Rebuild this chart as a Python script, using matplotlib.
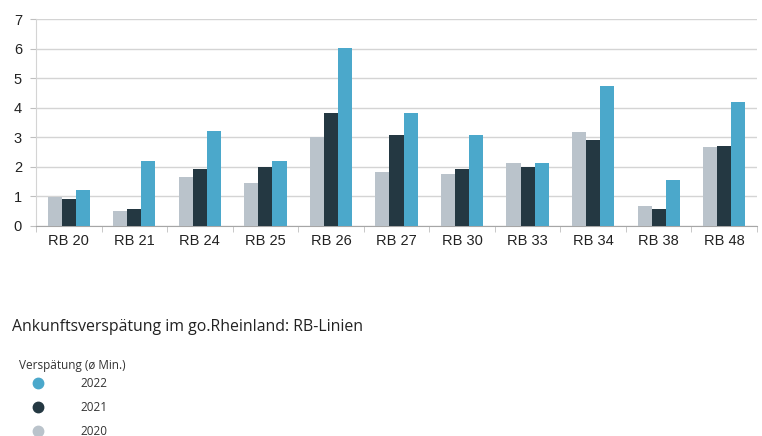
import numpy as np
import matplotlib.pyplot as plt
from matplotlib.lines import Line2D

# Ankunftsverspätung (Minuten) je RB-Linie
lines = ['RB 20', 'RB 21', 'RB 24', 'RB 25', 'RB 26', 'RB 27',
         'RB 30', 'RB 33', 'RB 34', 'RB 38', 'RB 48']
delay_2020 = [0.99, 0.51, 1.65, 1.46, 3.03, 1.84, 1.76, 2.12, 3.20, 0.68, 2.66]
delay_2021 = [0.93, 0.59, 1.93, 2.01, 3.84, 3.08, 1.93, 2.00, 2.91, 0.59, 2.70]
delay_2022 = [1.21, 2.21, 3.22, 2.21, 6.02, 3.82, 3.08, 2.12, 4.74, 1.57, 4.20]
years = ['2020', '2021', '2022']
colors = ['#bac3cb', '#243842', '#4ba8cb']

plt.rcParams['font.family'] = ['Liberation Sans', 'DejaVu Sans']

fig = plt.figure(figsize=(7.62, 4.36), dpi=100)
ax = fig.add_axes([0.0472, 0.4817, 0.9462, 0.474])

x = np.arange(len(lines))
w = 0.215
for i, (vals, c) in enumerate(zip([delay_2020, delay_2021, delay_2022], colors)):
    ax.bar(x + (i - 1) * w, vals, width=w, color=c, linewidth=0, zorder=3)

ax.set_xlim(-0.5, len(lines) - 0.5)
ax.set_ylim(0, 7)
ax.set_yticks(range(8))
ax.set_xticks(x)
ax.set_xticklabels(lines)
ax.set_xticks(np.arange(len(lines) + 1) - 0.5, minor=True)
ax.tick_params(axis='x', which='major', length=0, pad=6, labelsize=10.5,
               labelcolor='#222222')
ax.tick_params(axis='x', which='minor', length=4, color='#bfbfbf')
ax.tick_params(axis='y', length=4, color='#bfbfbf', pad=6, labelsize=10.5,
               labelcolor='#222222')
ax.grid(axis='y', color='#d4d4d4', linewidth=1.0, zorder=0)
for side in ['top', 'right']:
    ax.spines[side].set_visible(False)
ax.spines['left'].set_color('#d4d4d4')
ax.spines['bottom'].set_color('#a6a6a6')

fig.text(12 / 762, 1 - 327 / 436, 'Ankunftsverspätung im go.Rheinland: RB-Linien',
         family=['Open Sans', 'DejaVu Sans'], fontsize=11.4, color='#222222',
         va='center', ha='left')
fig.text(19 / 762, 1 - 365 / 436, 'Verspätung (ø Min.)',
         family=['Open Sans', 'DejaVu Sans'], fontsize=8.5, color='#333333',
         va='center', ha='left')

# Legende: Punkte und Jahreszahlen, 2022 oben
for k, (yr, c) in enumerate(zip(years[::-1], colors[::-1])):
    ypix = 383 + k * 24
    fig.add_artist(Line2D([38 / 762], [1 - ypix / 436], marker='o',
                          markersize=7.5, color=c, linestyle='none',
                          transform=fig.transFigure))
    fig.text(80 / 762, 1 - ypix / 436, yr, family=['Open Sans', 'DejaVu Sans'],
             fontsize=8.5, color='#333333', va='center', ha='left')

fig.savefig('out.png', dpi=100)
